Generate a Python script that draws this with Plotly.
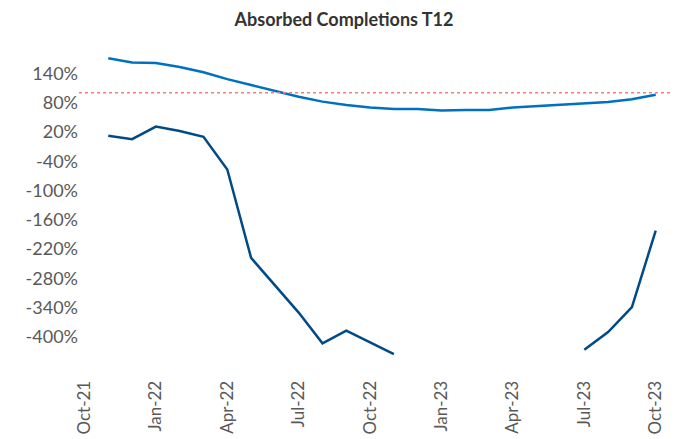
import plotly.graph_objects as go

# Monthly T12 series, Nov-21 .. Oct-23
months = ["Nov-21", "Dec-21", "Jan-22", "Feb-22", "Mar-22", "Apr-22", "May-22", "Jun-22",
          "Jul-22", "Aug-22", "Sep-22", "Oct-22", "Nov-22", "Dec-22", "Jan-23", "Feb-23",
          "Mar-23", "Apr-23", "May-23", "Jun-23", "Jul-23", "Aug-23", "Sep-23", "Oct-23"]

series_light = [171, 162, 161, 153, 142, 128, 116, 104, 92, 82, 75, 70,
                67, 67, 64, 65, 65, 70, 73, 75, 78, 81, 87, 96]

series_dark = [12, 5, 31, 22, 10, -57, -238, -294, -350, -413, -387, -411,
               -435, None, None, None, None, None, None, None, -426, -390, -339, -182]

target = 100

tick_labels = ["Oct-21", "Jan-22", "Apr-22", "Jul-22", "Oct-22", "Jan-23", "Apr-23", "Jul-23", "Oct-23"]
tick_offsets = [-1, 2, 5, 8, 11, 14, 17, 20, 23]  # month offsets relative to Nov-21

y_ticks = [140, 80, 20, -40, -100, -160, -220, -280, -340, -400]

x = list(range(len(months)))

fig = go.Figure()
fig.add_trace(go.Scatter(x=x, y=series_light, mode="lines", text=months,
                         line=dict(color="#0070C0", width=2.5), connectgaps=False, showlegend=False))
fig.add_trace(go.Scatter(x=x, y=series_dark, mode="lines", text=months,
                         line=dict(color="#004B87", width=2.5), connectgaps=False, showlegend=False))

fig.add_shape(type="line", xref="paper", yref="y", x0=0, x1=1, y0=target, y1=target,
              line=dict(color="#F08080", width=1.5, dash="dot"))

fig.update_layout(
    width=672, height=431,
    margin=dict(l=71, r=0, t=32, b=67),
    paper_bgcolor="white", plot_bgcolor="white",
    font=dict(family="Lato, Carlito, Calibri, sans-serif", color="#595959", size=18),
    title=dict(text="<b>Absorbed Completions T12</b>", x=0.5, xanchor="center",
               y=1 - 12 / 431, yanchor="middle", font=dict(size=18, color="#333333")),
    xaxis=dict(range=[-1.23, 24.02], tickvals=tick_offsets, ticktext=tick_labels,
               tickangle=-90, showgrid=False, zeroline=False, showline=False,
               ticks="outside", ticklen=1, tickcolor="rgba(0,0,0,0)", automargin=False,
               tickfont=dict(size=17)),
    yaxis=dict(range=[-471.7, 208.2], tickvals=y_ticks,
               ticktext=[f"{v}%" for v in y_ticks], showgrid=False, zeroline=False,
               showline=False, ticks="", automargin=False),
)

fig.write_html("out.html")
